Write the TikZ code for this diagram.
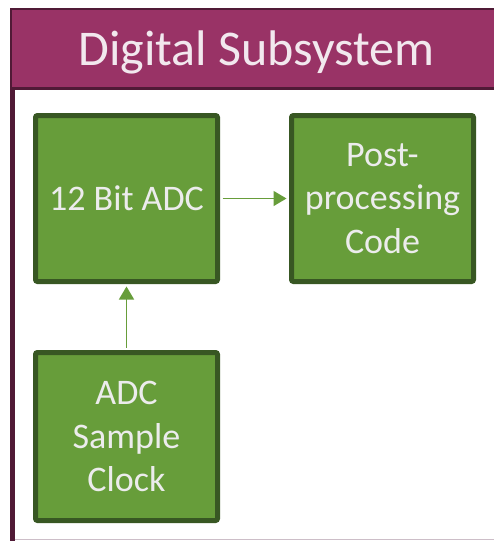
\documentclass[tikz,border=0pt]{standalone}
\usepackage{fontspec}
\setmainfont{Carlito}
\usetikzlibrary{arrows.meta}
\definecolor{subfill}{RGB}{153,51,102}
\definecolor{subedge}{RGB}{80,26,54}
\definecolor{blockfill}{RGB}{103,157,58}
\definecolor{blockedge}{RGB}{56,87,35}
\definecolor{blocktext}{RGB}{236,236,236}
\definecolor{framebase}{RGB}{205,190,200}

\begin{document}
\begin{tikzpicture}[x=1pt,y=-1pt,
    block/.style={draw=blockedge, fill=blockfill, line width=5pt, rounded corners=2pt,
                  minimum width=182pt, minimum height=166pt, inner sep=0pt,
                  align=center, text=blocktext, font=\fontsize{36}{43.5}\selectfont},
    link/.style={draw=blockfill, line width=1.5pt, shorten <=2.5pt, shorten >=2.5pt,
                 -{Triangle[length=13pt,width=15pt]}}]
    \useasboundingbox (0,0) rectangle (493,541);
    % subsystem frame and title band
    \draw[framebase, line width=1pt] (12,539.5) -- (500,539.5);
    \draw[subedge, line width=4.5pt] (12.5,88) -- (12.5,541);
    \draw[subedge, fill=subfill, line width=2.5pt] (11,9) rectangle (503,88.5);
    \node[anchor=base, text={rgb,255:red,242;green,232;blue,238},
          font=\fontsize{50}{60}\selectfont] (title) at (256.5,65) {Digital Subsystem};
    % blocks
    \node[block] (adc) at (126.5,198.5) {12 Bit ADC};
    \node[block] (post) at (382.5,198.5) {Post-\\processing\\Code};
    \node[block, minimum height=168pt] (clock) at (126.5,436.5) {ADC\\Sample\\Clock};
    \draw[link] (adc.east) -- (post.west);
    \draw[link] (clock.north) -- (adc.south);
\end{tikzpicture}
\end{document}
